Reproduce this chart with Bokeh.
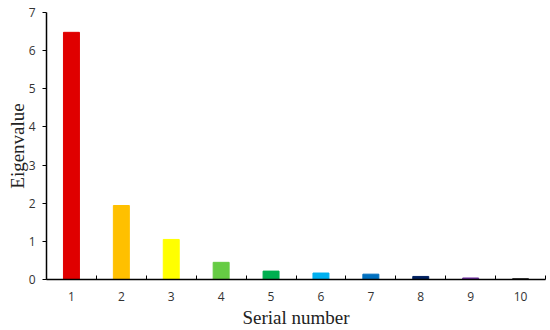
from bokeh.plotting import figure
from bokeh.models import ColumnDataSource, FixedTicker, Range1d
from bokeh.embed import file_html
from bokeh.resources import INLINE

serial = [1, 2, 3, 4, 5, 6, 7, 8, 9, 10]
eigenvalues = [6.48, 1.94, 1.05, 0.45, 0.22, 0.17, 0.14, 0.08, 0.04, 0.02]
colors = ["#e00000", "#ffc000", "#ffff00", "#66cc44", "#00b050",
          "#00b0f0", "#0070c0", "#002060", "#7030a0", "#1a1a1a"]
y_ticks = [0, 1, 2, 3, 4, 5, 6, 7]

src = ColumnDataSource(dict(x=serial, top=eigenvalues, color=colors))

p = figure(width=546, height=330, output_backend="svg", toolbar_location=None,
           x_range=Range1d(0.5, 10.5), y_range=Range1d(0, 7),
           min_border_left=46, min_border_right=1, min_border_top=12, min_border_bottom=51)
p.outline_line_color = None
p.xgrid.visible = False
p.ygrid.visible = False

p.vbar(x="x", top="top", width=0.32, bottom=0, color="color", source=src)

p.xaxis.ticker = FixedTicker(ticks=serial, minor_ticks=[s + 0.5 for s in [0] + serial])
p.xaxis.major_tick_line_color = None
p.xaxis.minor_tick_in = 4
p.xaxis.minor_tick_out = 0
p.xaxis.minor_tick_line_color = "#000000"
p.xaxis.axis_line_color = "#000000"
p.xaxis.axis_line_width = 1.5
p.xaxis.major_label_text_font = "Open Sans"
p.xaxis.major_label_text_font_size = "12px"
p.xaxis.major_label_text_color = "#333333"
p.xaxis.major_label_standoff = 6
p.xaxis.axis_label = "Serial number"
p.xaxis.axis_label_text_font = "Liberation Serif"
p.xaxis.axis_label_text_font_style = "normal"
p.xaxis.axis_label_text_font_size = "19px"
p.xaxis.axis_label_text_color = "#222222"
p.xaxis.axis_label_standoff = 3

p.yaxis.ticker = FixedTicker(ticks=y_ticks)
p.yaxis.minor_tick_line_color = None
p.yaxis.major_tick_in = 0
p.yaxis.major_tick_out = 4
p.yaxis.major_tick_line_color = "#000000"
p.yaxis.axis_line_color = "#000000"
p.yaxis.axis_line_width = 1.5
p.yaxis.major_label_text_font = "Open Sans"
p.yaxis.major_label_text_font_size = "12px"
p.yaxis.major_label_text_color = "#333333"
p.yaxis.major_label_standoff = 7
p.yaxis.axis_label = "Eigenvalue"
p.yaxis.axis_label_text_font = "Liberation Serif"
p.yaxis.axis_label_text_font_style = "normal"
p.yaxis.axis_label_text_font_size = "19px"
p.yaxis.axis_label_text_color = "#222222"
p.yaxis.axis_label_standoff = -2

open("out.html", "w").write(file_html(p, INLINE))
